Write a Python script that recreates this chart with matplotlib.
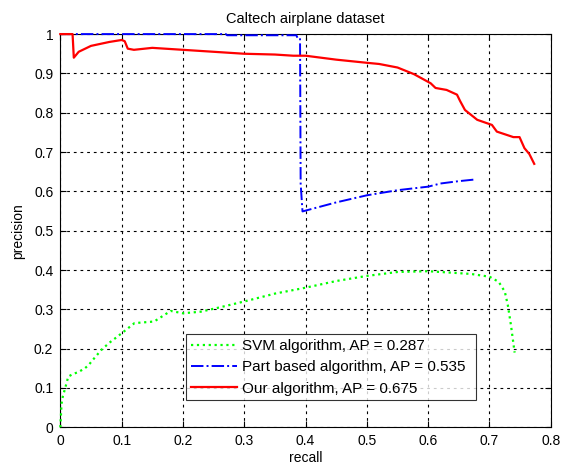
import matplotlib.pyplot as plt
import numpy as np

# precision/recall curves
svm_recall = [0.0, 0.002, 0.004, 0.008, 0.013, 0.02, 0.03, 0.04, 0.046, 0.055, 0.067,
              0.08, 0.1, 0.121, 0.153, 0.18, 0.2, 0.229, 0.26, 0.3, 0.35, 0.4, 0.45,
              0.5, 0.55, 0.6, 0.63, 0.67, 0.7, 0.715, 0.725, 0.73, 0.735, 0.741]
svm_prec = [0.0, 0.06, 0.078, 0.1, 0.129, 0.135, 0.141, 0.15, 0.158, 0.175, 0.197,
            0.215, 0.239, 0.265, 0.269, 0.296, 0.29, 0.294, 0.305, 0.32, 0.34, 0.355, 0.372,
            0.385, 0.395, 0.397, 0.394, 0.39, 0.383, 0.37, 0.345, 0.31, 0.26, 0.19]

part_recall = [0.0, 0.27, 0.272, 0.385, 0.387, 0.391, 0.392, 0.395, 0.45, 0.5, 0.55, 0.6, 0.62, 0.65, 0.675]
part_prec = [1.0, 1.0, 0.997, 0.997, 0.99, 0.99, 0.62, 0.549, 0.572, 0.59, 0.603, 0.612, 0.62, 0.626, 0.63]

our_recall = [0.0, 0.02, 0.022, 0.03, 0.05, 0.08, 0.1, 0.105, 0.11, 0.12, 0.15, 0.2, 0.25,
              0.3, 0.35, 0.38, 0.4, 0.45, 0.5, 0.52, 0.55, 0.577, 0.604, 0.612, 0.63, 0.647,
              0.652, 0.66, 0.68, 0.704, 0.712, 0.739, 0.749, 0.757, 0.765, 0.773]
our_prec = [1.0, 1.0, 0.94, 0.955, 0.97, 0.98, 0.985, 0.982, 0.963, 0.96, 0.965, 0.96, 0.955,
            0.95, 0.948, 0.945, 0.945, 0.935, 0.927, 0.924, 0.915, 0.898, 0.875, 0.863, 0.858, 0.846,
            0.83, 0.807, 0.782, 0.769, 0.752, 0.738, 0.738, 0.71, 0.695, 0.67]

labels = ["SVM algorithm, AP = 0.287",
          "Part based algorithm, AP = 0.535",
          "Our algorithm, AP = 0.675"]

plt.rcParams["font.family"] = ["Liberation Sans", "DejaVu Sans"]

fig = plt.figure(figsize=(5.69, 4.67), dpi=100)
ax = fig.add_axes([0.106, 0.085, 0.862, 0.842])

# lines drawn above the spines so the y=1 parts stay visible
ax.plot(svm_recall, svm_prec, ":", color="#00ff00", lw=1.6, label=labels[0], clip_on=False, zorder=3)
ax.plot(part_recall, part_prec, "-.", color="#0000ff", lw=1.4, label=labels[1], clip_on=False, zorder=3)
ax.plot(our_recall, our_prec, "-", color="#ff0000", lw=1.6, label=labels[2], clip_on=False, zorder=3)

ax.set_xlim(0, 0.8); ax.set_ylim(0, 1)
ax.set_xticks(np.arange(0, 0.81, 0.1))
ax.set_yticks(np.arange(0, 1.01, 0.1))
ax.set_xticklabels(["0", "0.1", "0.2", "0.3", "0.4", "0.5", "0.6", "0.7", "0.8"])
ax.set_yticklabels(["0", "0.1", "0.2", "0.3", "0.4", "0.5", "0.6", "0.7", "0.8", "0.9", "1"])
ax.tick_params(direction="in", top=True, right=True, labelsize=10, length=4)
ax.tick_params(axis="x", pad=5)
ax.tick_params(axis="y", pad=5)
ax.grid(True, color="black", linestyle=(0, (2.5, 3.5)), linewidth=0.8)
ax.set_axisbelow(True)
for s in ax.spines.values():
    s.set_linewidth(0.8)

ax.set_xlabel("recall", fontsize=10, labelpad=2)
ax.set_ylabel("precision", fontsize=10, labelpad=6)
ax.set_title("Caltech airplane dataset", fontsize=10.5, pad=8)

leg = ax.legend(loc="lower left", bbox_to_anchor=(0.257, 0.069, 0.59, 0.171), mode="expand",
                fontsize=11, frameon=True, fancybox=False, edgecolor="black",
                handlelength=3.0, borderaxespad=0, borderpad=0.3, labelspacing=0.48,
                handletextpad=0.35)
leg.get_frame().set_linewidth(0.8)
leg.set_zorder(5)

plt.savefig("out.png", dpi=100)
